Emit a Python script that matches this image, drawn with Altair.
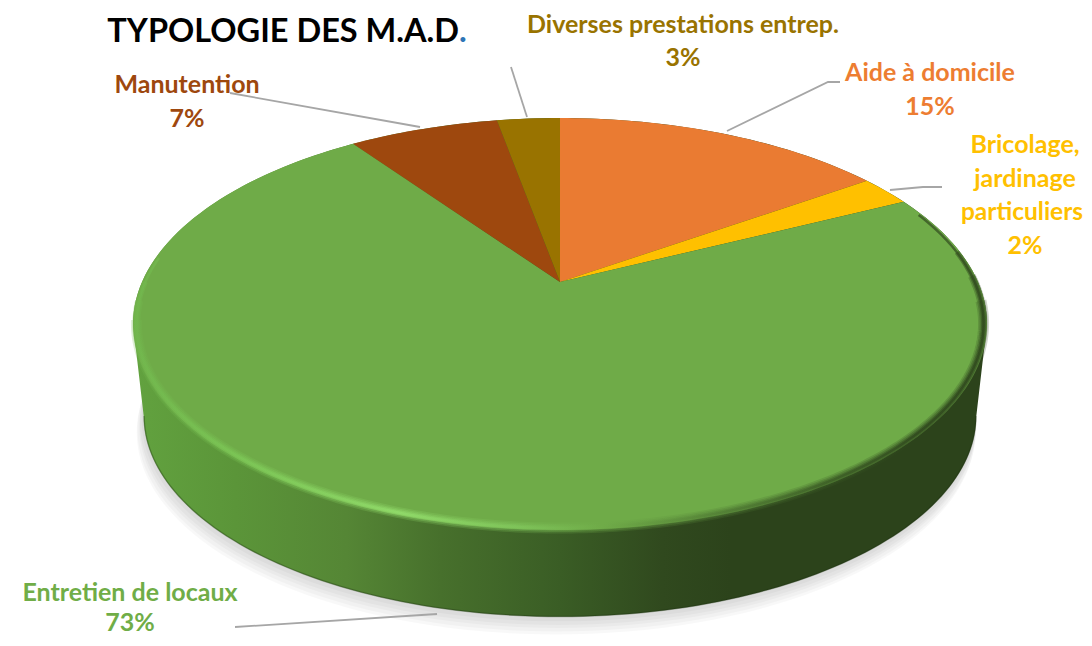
import math
import altair as alt

# ---- chart values ----
categories = ["Aide à domicile", "Bricolage, jardinage particuliers", "Entretien de locaux",
              "Manutention", "Diverses prestations entrep."]
shares = [15.3, 2.4, 72.5, 6.9, 2.9]
percent_labels = ["15%", "2%", "73%", "7%", "3%"]
slice_colors = ["#EA7B32", "#FFC000", "#6FAB48", "#9E480E", "#997300"]

title_text = "TYPOLOGIE DES M.A.D"

# ---- page / pie layout ----
OFF = 8
W, H = 1076, 630
CX, CY = 560, 282
A, B, K = 418.0, 197.4, 0.204
WALL_DY, WALL_S = 93, 0.975
FONT = "Lato"


def pt(theta, s=1.0, dy=0.0, dx=0.0):
    """Perspective view of a point of the pie's rim, theta clockwise from the top."""
    u, v = math.sin(theta), math.cos(theta)
    d = 1 + K * v
    return [CX + dx + s * A * u / d - OFF, CY + dy - s * B * v / d - OFF]


def arc(t0, t1, n=120, **kw):
    return [pt(t0 + (t1 - t0) * i / n, **kw) for i in range(n + 1)]


def poly(ring, **props):
    ring = ring + [ring[0]]
    return {"type": "Feature", "properties": props,
            "geometry": {"type": "Polygon", "coordinates": [ring]}}


def line(coords, shift=True):
    c = [[x - OFF, y - OFF] for x, y in coords] if shift else coords
    return {"type": "Feature", "properties": {},
            "geometry": {"type": "LineString", "coordinates": c}}


TAU = 2 * math.pi


def geo(features):
    return alt.Chart(alt.Data(values=features)).project(type="identity", scale=1, translate=[0, 0])


def grad(stops):
    return alt.Gradient(gradient="linear", x1=0, x2=1, y1=0, y2=0,
                        stops=[alt.GradientStop(color=c, offset=o) for o, c in stops])


# tangent points of the outline
tl = -math.acos(-K)   # left extreme
tr = math.acos(-K)    # right extreme

layers = []

# soft ground shadow
for d, g in [(16, 3), (13, 3), (10, 2), (7, 2), (4, 1)]:
    ring = arc(0, TAU, 180, s=WALL_S + g / 425, dy=WALL_DY + d, dx=-d * 0.25)
    layers.append(geo([poly(ring[:-1])]).mark_geoshape(fill="#000000", fillOpacity=0.026))

# side wall
wall = arc(tl, tr, 120) + arc(tr, TAU + tl, 120, s=WALL_S, dy=WALL_DY)
layers.append(geo([poly(wall)]).mark_geoshape(
    fill=grad([(0.0, "#62A23F"), (0.12, "#5B9539"), (0.25, "#558635"), (0.36, "#47702C"),
               (0.5, "#3A5D25"), (0.62, "#30491E"), (0.70, "#2C431B"), (1.0, "#2C431B")])))

# dark thin bottom edge of the wall
layers.append(geo([line(arc(tr, TAU + tl, 120, s=WALL_S - 0.001, dy=WALL_DY), shift=False)]).mark_geoshape(
    filled=False, strokeWidth=1.5, strokeOpacity=0.35, stroke="#1D3010"))

# top face, one slice per category
slices = []
acc = 0.0
total = sum(shares)
for name, share in zip(categories, shares):
    t0 = acc / total * TAU
    acc += share
    t1 = acc / total * TAU
    ring = [[CX - OFF, CY - OFF]] + arc(t0, t1, max(6, int(share * 3)))
    slices.append(poly(ring, name=name))
layers.append(geo(slices).mark_geoshape().encode(
    color=alt.Color("properties.name:N", legend=None,
                    scale=alt.Scale(domain=categories, range=slice_colors))))

# bevelled rim on the big slice: the wider strokes stop earlier, so that it tapers at both ends
rim_stops = [(0.0, "#72B84E"), (0.12, "#7CC756"), (0.31, "#93DE6C"), (0.45, "#80C65B"), (0.55, "#6FAB48"),
             (0.70, "#4F7A33"), (0.82, "#3A5A24"), (0.92, "#2C431B"), (1.0, "#2C431B")]
for width, op, t0, t1 in [(11, 0.22, 0.265, 0.720), (8, 0.3, 0.245, 0.735),
                          (5, 0.45, 0.225, 0.750), (2.5, 0.65, 0.190, 0.770)]:
    layers.append(geo([line(arc(t0 * TAU, t1 * TAU, 240, s=0.992), shift=False)]).mark_geoshape(
        filled=False, strokeWidth=width, strokeOpacity=op, stroke=grad(rim_stops), strokeCap="butt"))

# leader lines
leaders = [
    [(230, 93), (420, 127)],
    [(511, 67), (527, 117)],
    [(727, 131), (828, 82), (840, 82)],
    [(890, 190), (923, 187), (942, 187)],
    [(235, 627), (437, 614)],
]
layers.append(geo([line(c) for c in leaders]).mark_geoshape(
    filled=False, stroke="#A6A6A6", strokeWidth=1.8))


def label(text, x, baseline, color, size=25):
    return alt.Chart(alt.Data(values=[{"t": text}])).mark_text(
        font=FONT, fontWeight="bold", fontSize=size, color=color, align="center", baseline="alphabetic"
    ).encode(x=alt.value(x - OFF), y=alt.value(baseline - OFF), text="t:N")


layers += [
    label(categories[3], 187, 93, slice_colors[3]),
    label(percent_labels[3], 187, 127, slice_colors[3]),
    label(categories[4], 683, 33, slice_colors[4]),
    label(percent_labels[4], 683, 66, slice_colors[4]),
    label(categories[0], 930, 81, "#ED7D31"),
    label(percent_labels[0], 930, 115, "#ED7D31"),
    label("Bricolage,", 1025, 153, slice_colors[1]),
    label("jardinage", 1025, 187, slice_colors[1]),
    label("particuliers", 1022, 220, slice_colors[1], size=24.5),
    label(percent_labels[1], 1025, 254, slice_colors[1]),
    label(categories[2], 130, 601, "#70AD47"),
    label(percent_labels[2], 130, 631, "#70AD47"),
]

# document title (cut off by the page's edge in the reference, kept whole here)
title_y = 42
layers.append(alt.Chart(alt.Data(values=[{"t": title_text}])).mark_text(
    font=FONT, fontWeight="bold", fontSize=32.5, color="#000000", align="right", baseline="alphabetic"
).encode(x=alt.value(459 - OFF), y=alt.value(title_y - OFF), text="t:N"))
layers.append(alt.Chart(alt.Data(values=[{"t": "."}])).mark_text(
    font=FONT, fontWeight="bold", fontSize=32.5, color="#2E75B6", align="left", baseline="alphabetic"
).encode(x=alt.value(459 - OFF), y=alt.value(title_y - OFF), text="t:N"))

chart = alt.layer(*layers).properties(
    width=W, height=H, padding=0, autosize=alt.AutoSizeParams(type="none"), background="white"
).configure_view(stroke=None)

chart.save("out.html", embed_options={"renderer": "svg", "actions": False})
